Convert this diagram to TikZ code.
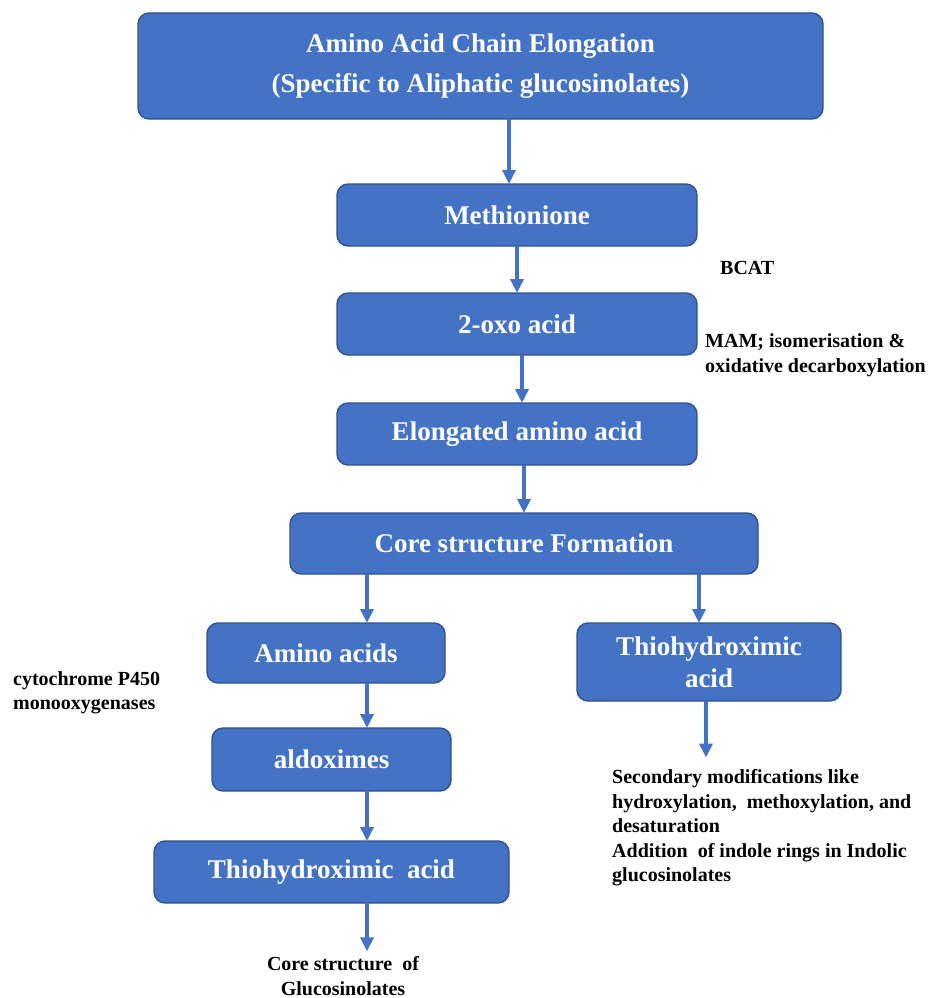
\documentclass[tikz,border=0pt]{standalone}
\usepackage{fontspec}
\setmainfont{Liberation Serif}
\usetikzlibrary{arrows.meta, positioning}

\definecolor{boxblue}{HTML}{4472C4}
\definecolor{boxedge}{HTML}{2F528F}

\begin{document}
\begin{tikzpicture}[x=1pt, y=-1pt,
  box/.style={rectangle, draw=boxedge, line width=1.4pt, rounded corners=11pt,
              fill=boxblue, text=white, align=center, inner sep=0pt,
              outer sep=0pt, font=\fontsize{27}{32}\selectfont\bfseries},
  note/.style={align=left, inner sep=0pt,
               font=\fontsize{20}{24.5}\selectfont\bfseries},
  arr/.style={-{Triangle[length=14pt,width=13pt]}, line width=3.6pt, boxblue},
  node distance=48pt
]
\useasboundingbox (0,0) rectangle (931,998);

% Chain elongation boxes
\node[box, minimum width=685pt, minimum height=106pt, font=\fontsize{27}{40}\selectfont\bfseries]
  (top) at (480.5,66)
  {Amino Acid Chain Elongation\\(Specific to Aliphatic glucosinolates)};

\node[box, minimum width=360pt, minimum height=62pt, below=65pt of top, xshift=36.5pt]
  (meth) {Methionione};
\node[box, minimum width=360pt, minimum height=62pt, below=47pt of meth]
  (oxo) {2-oxo acid};
\node[box, minimum width=360pt, minimum height=62pt, below=of oxo]
  (elong) {Elongated amino acid};

% Core structure boxes
\node[box, minimum width=468pt, minimum height=61pt, below=of elong, xshift=7pt]
  (core) {Core structure Formation};

\node[box, minimum width=238pt, minimum height=60pt, below=49pt of core, xshift=-198pt]
  (amino) {Amino acids};
\node[box, minimum width=264pt, minimum height=78pt, below=49pt of core, xshift=185pt]
  (thioR) {Thiohydroximic\\acid};
\node[box, minimum width=239pt, minimum height=63pt, below=45pt of amino, xshift=5.5pt]
  (ald) {aldoximes};
\node[box, minimum width=355pt, minimum height=62pt, below=50pt of ald]
  (thioL) {Thiohydroximic~ acid};

% Side notes
\node[note, anchor=west] (bcat) at (720,268) {BCAT};
\node[note, anchor=west] (mam) at (705,355)
  {MAM; isomerisation \&\\oxidative decarboxylation};
\node[note, anchor=west] (cyp) at (13,693)
  {cytochrome P450\\monooxygenases};
\node[note, anchor=west] (secmod) at (612,828)
  {Secondary modifications like\\hydroxylation,~ methoxylation, and\\desaturation\\
   Addition~ of indole rings in Indolic\\glucosinolates};
\node[note, align=center] (glucos) at (343,976)
  {Core structure~ of\\Glucosinolates};

% Arrows down the chain
\draw[arr] ([xshift=-8pt]meth.north |- top.south) -- ([xshift=-8pt]meth.north);
\draw[arr] (meth) -- (oxo);
\draw[arr] ([xshift=5pt]oxo.south) -- ([xshift=5pt]elong.north);
\draw[arr] (elong.south -| core) -- (core);

% Two branches
\draw[arr] ([xshift=41pt]amino.north |- core.south) -- ([xshift=41pt]amino.north);
\draw[arr] ([xshift=-10pt]thioR.north |- core.south) -- ([xshift=-10pt]thioR.north);
\draw[arr] ([xshift=41pt]amino.south) -- ([xshift=41pt]amino.south |- ald.north);
\draw[arr] ([xshift=35.5pt]ald.south) -- ([xshift=35.5pt]thioL.north);
\draw[arr, shorten >=5pt] ([xshift=35.5pt]thioL.south) -- ([xshift=35.5pt]thioL.south |- glucos.north);
\draw[arr, shorten >=12pt] ([xshift=-3pt]thioR.south) -- ([xshift=-3pt]thioR.south |- secmod.north);

\end{tikzpicture}
\end{document}
